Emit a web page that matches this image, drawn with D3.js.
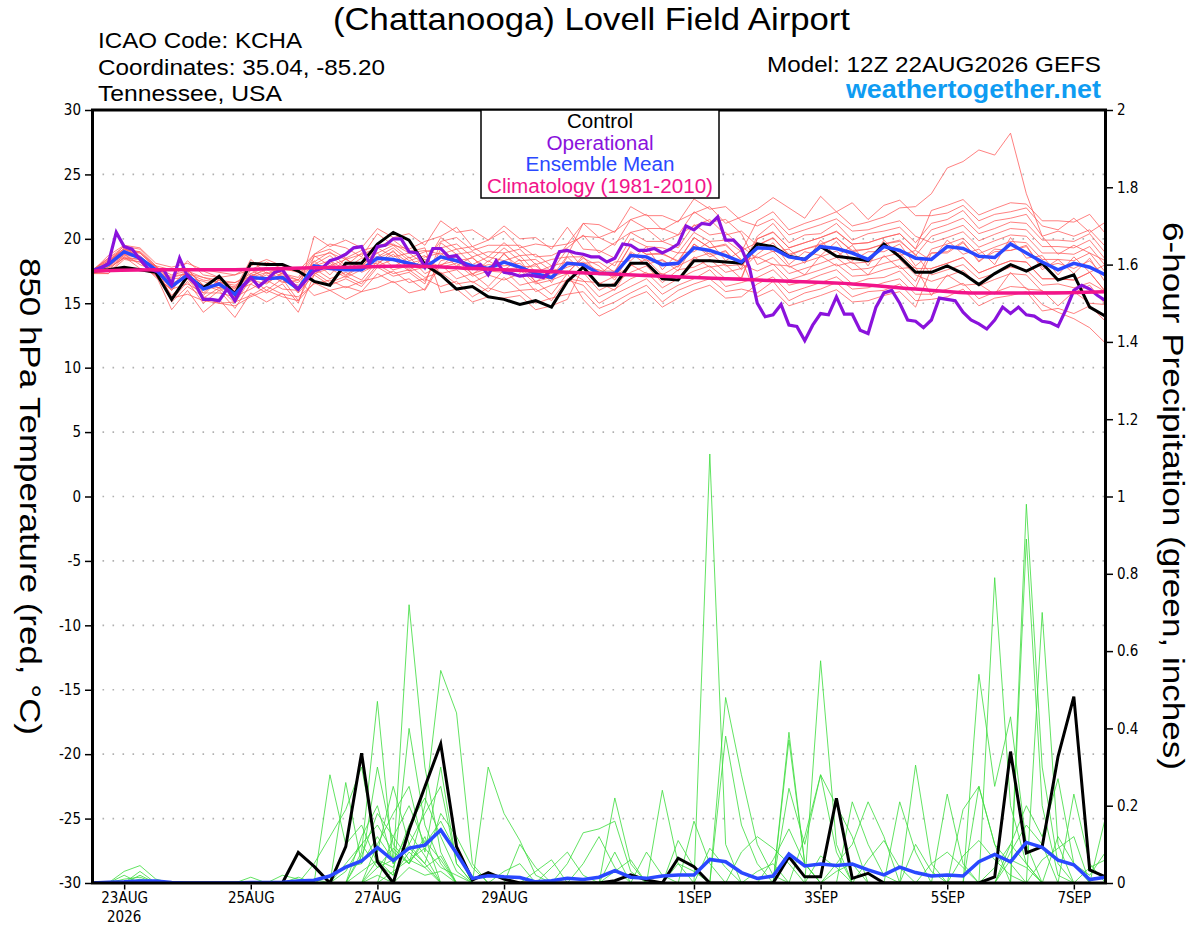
<!DOCTYPE html>
<html>
<head>
<meta charset="utf-8">
<script src="https://cdn.jsdelivr.net/npm/d3@7/dist/d3.min.js"></script>
<style>
  body { margin: 0; background: #fff; }
  svg text { font-family: "Liberation Sans", Arial, Helvetica, sans-serif; }
  .narrow text, text.narrow { font-family: "Liberation Sans Narrow", "DejaVu Sans Condensed", "Liberation Sans", sans-serif; }
</style>
</head>
<body>
<svg id="chart" width="1200" height="927"></svg>
<script>
// Run start (12Z 22AUG2026), members every 6 h, operational every 3 h
const runStartUTC = Date.UTC(2026, 7, 22, 12);

const dateTicks = [Date.UTC(2026,7,23), Date.UTC(2026,7,25), Date.UTC(2026,7,27), Date.UTC(2026,7,29),
                   Date.UTC(2026,8,1), Date.UTC(2026,8,3), Date.UTC(2026,8,5), Date.UTC(2026,8,7)];
const dateTickLabels = ['23AUG', '25AUG', '27AUG', '29AUG', '1SEP', '3SEP', '5SEP', '7SEP'];
const tempTicks = [-30, -25, -20, -15, -10, -5, 0, 5, 10, 15, 20, 25, 30];
const precipTicks = [0, 0.2, 0.4, 0.6, 0.8, 1, 1.2, 1.4, 1.6, 1.8, 2];

// 850 hPa temperature (C), 6-hourly
const controlTemp = [17.5,17.6,17.8,17.6,17.4,15.3,17.1,16.2,17.1,15.7,18.1,18.0,18.0,17.5,16.7,16.4,18.1,18.1,19.6,20.5,19.9,18.0,
  17.2,16.1,16.3,15.5,15.3,14.9,15.2,14.7,16.7,17.8,16.4,16.4,18.1,18.1,16.9,16.8,18.3,18.3,18.2,18.1,
  19.6,19.4,18.65,18.4,19.4,18.65,18.5,18.3,19.6,18.6,17.4,17.4,17.9,17.3,16.45,17.3,18.0,17.5,18.1,16.8,17.2,14.7,14.0];
const meanTemp = [17.5,18.0,19.0,18.5,17.6,16.3,17.2,16.1,16.5,15.7,17.0,16.9,17.0,16.1,17.9,17.7,17.6,17.6,18.5,18.4,18.1,17.8,
  18.6,18.3,17.9,17.7,18.2,17.8,17.3,17.0,18.1,18.0,17.3,17.3,18.7,18.6,18.0,18.1,19.3,19.1,18.7,18.2,
  19.3,19.25,18.6,18.4,19.4,19.25,18.9,18.4,19.4,19.1,18.5,18.4,19.4,19.25,18.65,18.55,19.6,18.9,18.2,17.6,18.1,17.8,17.2];
// operational GFS, 3-hourly
const operTemp = [17.5,17.7,18.1,20.5,19.4,19.2,18.4,17.7,17.5,17.6,16.5,18.5,17.1,16.5,15.3,15.3,15.2,16.1,15.2,16.3,17.0,
  16.3,16.8,17.4,17.6,16.7,16.1,16.8,17.5,17.7,18.3,18.5,18.8,19.3,19.4,18.1,19.4,19.5,20.0,20.0,19.0,18.9,17.8,
  19.25,19.25,18.6,18.7,18.0,17.7,18.0,17.2,18.3,17.4,17.3,17.1,17.2,17.1,17.0,17.6,19.0,19.1,18.9,18.8,18.6,18.6,
  18.2,18.5,19.6,19.5,19.1,19.1,19.25,18.9,19.2,19.6,21.0,20.7,21.2,21.1,21.7,19.9,19.9,19.25,17.8,15.0,
  13.95,14.1,14.9,13.3,13.2,12.1,13.3,14.2,14.1,15.5,14.15,14.15,12.9,12.65,14.7,15.8,16.0,15.0,13.7,13.6,13.1,13.7,
  15.4,15.3,15.2,14.3,13.7,13.4,13.0,13.7,14.7,14.2,14.7,14.1,14.0,13.6,13.5,13.2,14.5,16.0,16.4,16.1,15.6,15.2];
// climatology, daily at 12Z
const climTemp = [17.5,17.6,17.6,17.7,17.8,17.9,17.7,17.5,17.3,17.1,16.9,16.7,16.5,16.1,15.8,15.8,15.9];

const memberTemp = [
  [17.6,18.3,19.2,18.9,17.8, 16.8,18.3,17.2,17.0,16.1,18.4,17.3,17.6,17.5, 18.8,19.6,19.3,18.6,20.4,19.5,19.2,19.8,
   20.2,20.9,19.4,19.9,20.6,19.3,19.6,19.4,19.6, 21.2,20.1,20.6,21.5,21.9,20.7,21.4,22.0,22.5,21.2,21.7,
   22.3,23.2,22.4,21.6,23.3,22.1,22.8,21.5,22.6,23.0,21.8, 21.8,22.0,22.6,21.4,21.9,22.1,22.4,21.0,20.7,21.6,20.5,21.3],
  [17.3,17.5,18.8,18.0,17.5, 15.1,16.3,15.5,15.0,15.1,15.6,16.3,15.7,15.5, 16.5,16.8,16.2,16.7,17.0,17.5,16.6,16.9,
   16.3,16.7,15.5,16.2,15.8,16.0,15.0,15.4,15.7, 15.9,14.6,15.1,15.8,16.4,15.1,16.0,16.5,16.9,15.9,16.1,
   15.8,16.7,15.2,15.8,16.1,16.6,15.5,15.9,16.0,16.5,15.2, 15.3,15.5,16.1,14.8,15.4,15.6,15.9,14.4,14.6,14.2,14.8,13.6],
  [17.5,18.5,19.4,19.2,17.9, 16.9,17.0,16.7,16.2,16.3,17.0,17.4,16.9,16.6, 18.2,19.0,17.9,18.9,18.9,19.5,18.5,19.0,
   19.3,19.6,18.6,19.0,18.9,19.2,18.0,18.4,18.6, 17.4,16.0,16.6,17.4,17.9,16.6,17.6,17.8,18.4,17.4,17.7,
   20.2,21.2,19.7,20.3,20.4,21.2,19.9,20.4,20.6,20.9,19.7, 21.2,21.5,22.2,20.8,21.4,21.6,21.9,20.2,20.6,20.2,20.7,19.4],
  [17.4,17.3,18.4,18.2,17.0, 16.1,16.5,15.8,15.8,15.5,16.1,16.8,16.1,16.0, 17.5,18.1,17.2,18.0,18.1,18.8,17.7,18.2,
   19.8,20.1,19.1,19.5,19.5,19.5,18.6,18.7,19.3, 20.3,18.9,19.7,20.5,20.8,19.8,20.3,21.0,21.5,20.3,20.6,
   19.5,20.1,18.7,19.2,19.5,20.1,19.0,19.2,19.6,19.8,18.8, 17.2,17.6,18.0,16.9,17.3,17.8,17.6,16.4,16.5,16.2,16.6,15.9],
  [17.5,18.1,19.3,18.4,17.9, 17.6,17.7,17.5,17.0,17.2,17.6,18.2,17.7,17.4, 18.0,18.7,17.7,18.5,18.6,19.3,18.3,18.7,
   17.3,17.6,16.6,17.2,16.8,17.3,15.9,16.4,16.8, 16.4,15.0,15.7,16.3,16.9,15.7,16.4,16.9,17.6,16.3,16.6,
   17.0,17.6,16.4,16.7,17.2,17.6,16.5,16.9,17.0,17.5,16.2, 18.9,18.9,19.7,18.3,19.0,19.1,19.4,17.8,18.1,17.7,18.3,17.0],
  [17.4,18.0,18.8,18.6,17.5, 15.6,16.9,15.4,16.2,15.0,16.9,16.0,16.9,15.2, 16.6,16.0,16.3,15.9,17.3,16.6,16.9,16.0,
   18.0,16.9,17.3,16.3,17.6,16.4,16.7,15.7,17.3, 18.7,18.6,17.9,20.0,19.4,19.3,18.9,20.5,19.8,19.9,19.0,
   21.4,22.1,20.7,21.2,21.6,22.1,21.0,21.3,21.7,22.4,22.5, 23.5,25.5,26.0,26.9,26.5,28.2,23.5,20.2,18.8,19.5,18.9,18.3],
  [17.5,17.9,18.6,18.4,17.3, 17.1,17.3,17.0,16.6,16.6,17.1,17.7,17.3,16.8, 18.6,18.9,18.4,18.8,19.3,19.6,18.9,19.1,
   18.8,19.2,18.0,18.6,18.3,18.7,17.4,17.9,18.2, 18.1,18.2,17.4,19.5,18.8,18.9,18.2,20.1,19.3,19.6,18.3,
   18.6,18.0,17.9,17.2,18.7,17.9,18.2,17.2,18.7,17.7,17.8, 15.6,17.2,16.4,16.5,15.7,17.4,16.1,16.0,14.8,15.9,15.0,14.9],
  [17.6,18.5,19.2,19.0,17.9, 15.4,15.7,15.2,15.0,14.8,15.5,16.0,15.5,15.2, 17.7,16.9,17.4,16.8,18.3,17.6,17.9,17.0,
   17.4,16.5,16.7,15.9,17.0,16.0,16.1,15.2,16.9, 16.7,16.6,16.0,18.0,17.3,17.3,16.8,18.6,17.8,18.0,16.9,
   20.0,20.5,19.3,19.7,20.1,20.6,19.6,19.7,20.1,20.4,19.2, 20.7,21.1,21.6,20.4,20.8,21.3,21.2,19.9,19.9,19.8,20.4,18.9],
  [17.4,17.7,18.5,18.2,17.1, 16.0,17.5,15.8,16.8,15.4,17.3,16.6,17.3,15.8, 20.2,19.4,19.9,19.3,20.8,20.1,20.4,19.5,
   21.4,20.5,20.7,19.9,21.0,20.0,20.1,19.2,20.9, 19.2,19.1,18.5,20.5,19.8,19.8,19.3,21.1,20.3,20.5,19.4,
   18.5,19.05,17.8,18.2,18.6,19.05,18.1,18.2,18.6,18.9,17.7, 17.7,18.1,18.55,17.35,17.85,18.3,18.2,16.9,16.9,16.8,17.4,15.9],
  [17.4,18.2,19.0,18.7,17.6, 16.3,17.7,16.2,17.1,15.7,17.6,16.9,17.6,16.1, 17.4,16.6,17.1,16.5,18.0,17.3,17.6,16.7,
   19.2,18.3,18.5,17.7,18.8,17.8,17.9,17.0,18.7, 21.2,21.1,20.5,22.5,21.8,21.8,21.3,23.1,22.3,22.5,21.4,
   21.0,21.55,20.3,20.7,21.1,21.55,20.6,20.7,21.1,21.4,20.2, 19.7,20.1,20.55,19.35,19.85,20.3,20.2,18.9,18.9,18.8,19.4,17.9],
  [17.5,18.7,19.5,19.3,18.1, 17.8,18.1,17.6,17.4,17.2,17.9,18.4,17.9,17.6, 17.9,18.3,17.6,18.2,18.5,19.0,18.1,18.4,
   17.8,18.1,17.1,17.5,17.4,17.6,16.5,16.8,17.3, 15.3,14.0,14.6,15.4,15.9,14.7,15.4,16.0,16.4,15.4,15.5,
   16.5,17.05,15.8,16.2,16.6,17.05,16.1,16.2,16.6,16.9,15.7, 15.7,16.1,16.55,15.35,15.85,16.3,16.2,14.9,14.3,13.8,13.1,11.9],
  [17.3,17.3,18.6,17.7,17.2, 14.5,16.0,14.3,15.3,13.9,15.8,15.1,15.8,14.3, 17.2,16.4,16.9,16.3,17.8,17.1,17.4,16.5,
   19.7,18.8,19.0,18.2,19.3,18.3,18.4,17.5,19.2, 17.7,17.6,17.0,19.0,18.3,18.3,17.8,19.6,18.8,19.0,17.9,
   19.5,20.05,18.8,19.2,19.6,20.05,19.1,19.2,19.6,19.9,18.7, 20.2,20.6,21.05,19.85,20.35,20.8,20.7,19.4,19.4,19.3,19.9,18.4],
  [17.6,18.4,19.1,19.0,17.8, 17.2,17.5,17.0,16.8,16.6,17.3,17.8,17.3,17.0, 18.8,19.2,18.5,19.1,19.4,19.9,19.0,19.3,
   15.8,16.1,15.1,15.5,15.4,15.6,14.5,14.8,15.3, 17.8,16.5,17.1,17.9,18.4,17.2,17.9,18.5,18.9,17.9,18.0,
   17.5,18.05,16.8,17.2,17.6,18.05,17.1,17.2,17.6,17.9,16.7, 19.2,19.6,20.05,18.85,19.35,19.8,19.7,18.4,18.4,18.3,18.9,17.4],
  [17.4,18.0,18.7,18.6,17.4, 15.2,16.7,15.0,16.0,14.6,16.5,15.8,16.5,15.0, 18.7,17.9,18.4,17.8,19.3,18.6,18.9,18.0,
   20.1,19.2,19.4,18.6,19.7,18.7,18.8,17.9,19.6, 20.2,20.1,19.5,21.5,20.8,20.8,20.3,22.1,21.3,21.5,20.4,
   18.0,18.55,17.3,17.7,18.1,18.55,17.6,17.7,18.1,18.4,17.2, 16.7,17.1,17.55,16.35,16.85,17.3,17.2,15.9,15.9,15.8,16.4,14.9],
  [17.5,18.3,19.0,18.9,17.7, 16.6,16.9,16.4,16.2,16.0,16.7,17.2,16.7,16.4, 17.3,17.7,17.0,17.6,17.9,18.4,17.5,17.8,
   18.0,18.3,17.3,17.7,17.6,17.8,16.7,17.0,17.5, 16.8,15.5,16.1,16.9,17.4,16.2,16.9,17.5,17.9,16.9,17.0,
   20.0,20.55,19.3,19.7,20.1,20.55,19.6,19.7,20.1,20.4,19.2, 22.2,22.6,23.05,21.85,22.35,22.8,22.7,21.4,21.4,21.3,21.9,20.4],
  [17.3,17.8,18.5,18.4,17.2, 17.0,17.3,16.8,16.6,16.4,17.1,17.6,17.1,16.8, 15.6,16.0,15.3,15.9,16.2,16.7,15.8,16.1,
   18.3,18.6,17.6,18.0,17.9,18.1,17.0,17.3,17.8, 18.2,17.5,17.5,19.5,18.8,18.8,18.3,20.1,19.3,19.5,18.4,
   15.5,16.05,14.8,15.2,15.6,16.05,15.1,15.2,15.6,15.9,14.7, 17.7,18.1,18.55,17.35,17.85,18.3,18.2,16.9,16.9,16.8,17.4,15.9],
  [17.4,18.1,19.5,18.3,17.9, 16.4,17.0,15.6,16.9,15.9,16.5,17.4,16.6,16.8, 18.3,17.2,18.5,17.4,18.0,19.1,17.5,18.6,
   18.9,17.9,18.6,17.2,18.9,17.4,18.1,16.6,18.6, 18.6,17.2,18.2,18.3,19.4,17.6,18.9,19.0,19.8,18.3,19.1,
   19.7,19.0,19.2,18.1,19.9,18.6,19.5,17.9,19.9,18.7,19.1, 18.3,19.9,18.8,19.2,18.0,20.1,18.5,18.7,17.2,18.6,17.4,18.0],
  [17.5,17.8,18.9,18.6,17.6, 16.0,17.6,16.4,16.0,16.2,16.8,16.5,17.4,15.8, 17.2,18.3,17.1,17.9,18.9,17.8,18.6,17.3,
   17.9,18.8,17.2,18.3,17.6,18.4,16.6,17.7,17.4, 18.5,17.9,16.8,18.9,18.0,18.4,17.5,19.6,18.6,19.1,17.6,
   18.8,19.7,18.0,19.0,18.7,19.8,18.3,19.0,19.0,19.6,17.9, 18.9,19.0,19.8,18.2,19.2,19.1,19.5,17.6,18.4,17.3,18.5,16.6]
];

// 6-hour precipitation (inches)
const controlPrecip = [0,0,0,0,0,0,0,0,0,0,0,0,0,.079,.043,0,.094,.336,.055,0,.137,.249,.360,.094,.008,.027,.010,
  0,0,0,0,0,0,.006,.021,.008,0,.064,.042,0,0,0,0,0,.068,.016,.016,.219,.012,.025,0,0,0,0,0,0,0,
  .016,.340,.078,.094,.327,.482,.034,.016];
const meanPrecip = [0,.002,.003,.005,.005,.001,0,0,0,0,.001,.001,.002,.005,.007,.018,.041,.057,.092,.058,.09,.098,.137,.077,
  .012,.019,.016,.014,.003,.006,.012,.009,.015,.032,.015,.012,.018,.021,.021,.061,.055,.027,.012,.018,.075,.044,.049,.045,
  .049,.034,.021,.041,.027,.018,.021,.018,.055,.074,.055,.105,.092,.059,.047,.009,.015];
// members: [step, inches] for the wet steps, dry elsewhere
const memberPrecipWet = [
  [[2,.03],[3,.045],[4,.01],[17,.08],[18,.47],[19,.05],[20,.72],[21,.30],[22,.08],[33,.22],[34,.05],[59,.98],[60,.30],[61,.05]],
  [[3,.03],[15,.28],[16,.10],[17,.15],[18,.05],[19,.02],[20,.40],[21,.15],[22,.05],[39,1.11],[40,.10],[57,.79],[58,.20],[59,.05]],
  [[16,.26],[17,.05],[18,.30],[19,.10],[20,.05],[21,.20],[22,.55],[23,.44],[24,.05],[36,.24],[37,.05],[46,.575],[47,.10],[60,.70],[61,.10]],
  [[14,.05],[15,.12],[16,.19],[17,.30],[18,.08],[19,.25],[20,.10],[21,.05],[25,.30],[26,.18],[27,.11],[28,.02],[40,.48],[41,.28],[42,.10],[43,.02],[56,.54],[57,.25],[58,.43],[59,.10]],
  [[17,.12],[18,.20],[19,.05],[20,.10],[21,.18],[22,.25],[23,.05],[30,.05],[31,.13],[32,.14],[33,.16],[34,.03],[44,.39],[45,.05],[59,.89],[60,.20],[61,.02]],
  [[18,.10],[19,.18],[20,.25],[21,.08],[22,.30],[23,.05],[38,.16],[39,.05],[44,.37],[45,.05],[51,.21],[52,.08],[62,.23],[63,.05]],
  [[2,.02],[16,.05],[17,.10],[18,.15],[19,.08],[20,.05],[21,.12],[26,.03],[27,.05],[40,.38],[41,.15],[42,.05],[48,.21],[49,.10],[50,.02],[55,.19],[56,.25],[57,.10]],
  [[19,.12],[20,.20],[21,.10],[22,.16],[23,.08],[35,.08],[36,.02],[44,.245],[45,.10],[46,.28],[47,.08],[54,.23],[55,.05],[64,.17]],
  [[3,.02],[12,.02],[13,.01],[18,.06],[19,.04],[20,.15],[21,.22],[22,.12],[23,.03],[29,.04],[30,.08],[31,.02],[47,.05],[48,.10],[49,.21],[50,.12],[58,.10],[59,.20],[60,.12],[61,.27],[62,.05]],
  [[10,.015],[17,.07],[18,.18],[19,.12],[20,.06],[21,.04],[37,.11],[38,.04],[41,.08],[42,.12],[43,.09],[44,.05],[52,.305],[53,.05],[56,.25],[57,.10],[58,.05]],
  [[15,.02],[16,.04],[17,.05],[18,.12],[19,.06],[20,.09],[21,.05],[22,.18],[23,.12],[24,.04],[33,.08],[45,.12],[46,.28],[47,.20],[48,.12],[58,.08],[59,.15],[60,.10]],
  [[14,.01],[16,.03],[17,.10],[18,.04],[19,.06],[20,.13],[21,.07],[27,.10],[28,.04],[39,.09],[40,.04],[49,.06],[50,.11],[51,.04],[61,.12],[62,.05],[63,.02],[64,.08]],
  [[13,.015],[18,.04],[19,.09],[20,.05],[21,.11],[22,.06],[31,.05],[32,.12],[33,.04],[43,.06],[44,.14],[45,.05],[55,.07],[56,.11],[57,.06],[58,.02]],
  [[2,.01],[3,.015],[17,.03],[18,.06],[19,.02],[20,.08],[21,.04],[22,.07],[28,.03],[29,.06],[46,.07],[47,.04],[53,.05],[54,.08],[55,.04],[60,.06],[61,.09],[62,.12]],
  [[18,.02],[20,.04],[21,.02],[22,.03],[37,.05],[38,.03],[42,.03],[43,.05],[52,.10],[53,.03],[58,.06],[59,.04]],
  [[3,.01],[19,.03],[20,.06],[21,.09],[22,.04],[23,.02],[33,.03],[34,.06],[47,.03],[48,.05],[57,.04],[58,.10],[59,.05],[63,.04],[64,.06]]
];

const colors = {
  member: '#ff5a5a', precip: '#3ddc3d', control: '#000000',
  oper: '#8a12dc', mean: '#2a48ff', clim: '#f2148a', grid: '#b0b0b0', site: '#0f9cf2'
};

const nSteps = controlTemp.length;
const stepTime = (i, hours) => new Date(runStartUTC + i * hours * 3600e3);

const plot = { left: 92.5, right: 1105.5, top: 110, bottom: 883 };

const svg = d3.select('#chart');

const x = d3.scaleUtc()
  .domain([stepTime(0, 6), stepTime(nSteps - 1, 6)])
  .range([plot.left, plot.right]);
const yTemp = d3.scaleLinear().domain([-30, 30]).range([plot.bottom, plot.top]);
const yPrecip = d3.scaleLinear().domain([0, 2]).range([plot.bottom, plot.top]);

svg.append('defs').append('clipPath').attr('id', 'plot-clip')
  .append('rect')
  .attr('x', plot.left).attr('y', plot.top)
  .attr('width', plot.right - plot.left).attr('height', plot.bottom - plot.top);

// Dotted grid at each temperature tick (not on the frame)
svg.append('g').attr('class', 'grid')
  .selectAll('line')
  .data(tempTicks.filter(d => d > -30 && d < 30))
  .join('line')
  .attr('x1', plot.left).attr('x2', plot.right)
  .attr('y1', d => yTemp(d)).attr('y2', d => yTemp(d))
  .style('stroke', colors.grid)
  .style('stroke-width', 1.6)
  .style('stroke-dasharray', '1.6,8.4');

const lineT6 = d3.line().x((d, i) => x(stepTime(i, 6))).y(d => yTemp(d));
const lineT3 = d3.line().x((d, i) => x(stepTime(i, 3))).y(d => yTemp(d));
const lineT24 = d3.line().x((d, i) => x(stepTime(i, 24))).y(d => yTemp(d)).curve(d3.curveMonotoneX);
const lineP6 = d3.line().x((d, i) => x(stepTime(i, 6))).y(d => yPrecip(d));

const lines = svg.append('g').attr('clip-path', 'url(#plot-clip)');

// Ensemble members
lines.append('g').selectAll('path')
  .data(memberTemp)
  .join('path')
  .attr('d', lineT6)
  .style('fill', 'none')
  .style('stroke', colors.member)
  .style('stroke-width', 0.9)
  .style('opacity', 0.85);

const memberPrecip = memberPrecipWet.map(wet => {
  const series = new Array(nSteps).fill(0);
  wet.forEach(([step, val]) => { series[step] = val; });
  return series;
});

lines.append('g').selectAll('path')
  .data(memberPrecip)
  .join('path')
  .attr('d', lineP6)
  .style('fill', 'none')
  .style('stroke', colors.precip)
  .style('stroke-width', 0.9)
  .style('opacity', 0.9);

// Control
lines.append('path').datum(controlPrecip).attr('d', lineP6)
  .style('fill', 'none').style('stroke', colors.control).style('stroke-width', 3);
lines.append('path').datum(controlTemp).attr('d', lineT6)
  .style('fill', 'none').style('stroke', colors.control).style('stroke-width', 3);

// Ensemble mean
lines.append('path').datum(meanPrecip).attr('d', lineP6)
  .style('fill', 'none').style('stroke', colors.mean).style('stroke-width', 3.5);
lines.append('path').datum(meanTemp).attr('d', lineT6)
  .style('fill', 'none').style('stroke', colors.mean).style('stroke-width', 3.5);

// Operational
lines.append('path').datum(operTemp).attr('d', lineT3)
  .style('fill', 'none').style('stroke', colors.oper).style('stroke-width', 3.2);

// Climatology
lines.append('path').datum(climTemp).attr('d', lineT24)
  .style('fill', 'none').style('stroke', colors.clim).style('stroke-width', 3.5);

// Frame
svg.append('rect')
  .attr('x', plot.left).attr('y', plot.top)
  .attr('width', plot.right - plot.left).attr('height', plot.bottom - plot.top)
  .style('fill', 'none').style('stroke', '#000').style('stroke-width', 3);

// Axes
const axisLeft = svg.append('g').attr('class', 'narrow')
  .attr('transform', `translate(${plot.left - 1.5},0)`)
  .call(d3.axisLeft(yTemp).tickValues(tempTicks).tickSize(6).tickPadding(4).tickFormat(d => String(d)));

const axisRight = svg.append('g').attr('class', 'narrow')
  .attr('transform', `translate(${plot.right + 1.5},0)`)
  .call(d3.axisRight(yPrecip).tickValues(precipTicks).tickSize(6).tickPadding(4).tickFormat(d => String(d)));

const axisBottom = svg.append('g').attr('class', 'narrow')
  .attr('transform', `translate(0,${plot.bottom + 1.5})`)
  .call(d3.axisBottom(x).tickValues(dateTicks.map(d => new Date(d))).tickSize(5).tickPadding(3)
    .tickFormat((d, i) => dateTickLabels[i]));

[axisLeft, axisRight, axisBottom].forEach(g => {
  g.select('.domain').remove();
  g.selectAll('.tick line').style('stroke', '#000').style('stroke-width', 1.5);
  g.selectAll('.tick text').style('font-size', '15px').style('fill', '#000');
});

axisBottom.append('text')
  .attr('x', x(new Date(dateTicks[0])))
  .attr('y', 37)
  .attr('text-anchor', 'middle')
  .style('font-size', '15px').style('fill', '#000')
  .text('2026');

// Text helper: font size plus the width the reference gives the string
const fitText = (sel, length) => sel.attr('textLength', length).attr('lengthAdjust', 'spacingAndGlyphs');

// Axis titles (both read top to bottom)
svg.append('text')
  .attr('transform', 'translate(20,496.5) rotate(90)')
  .attr('text-anchor', 'middle')
  .style('font-size', '30px')
  .text('850 hPa Temperature (red, °C)')
  .call(fitText, 477);

svg.append('text')
  .attr('transform', 'translate(1163,496) rotate(90)')
  .attr('text-anchor', 'middle')
  .style('font-size', '30px')
  .text('6-hour Precipitation (green, inches)')
  .call(fitText, 548);

// Header
svg.append('text').attr('x', 591.5).attr('y', 30).attr('text-anchor', 'middle')
  .style('font-size', '32px').text('(Chattanooga) Lovell Field Airport')
  .call(fitText, 517);

const infoLines = ['ICAO Code: KCHA', 'Coordinates: 35.04, -85.20', 'Tennessee, USA'];
const infoWidths = [204, 287, 184];
svg.append('g').selectAll('text')
  .data(infoLines)
  .join('text')
  .attr('x', 98).attr('y', (d, i) => 48 + i * 26.5)
  .style('font-size', '22.5px')
  .text(d => d)
  .attr('textLength', (d, i) => infoWidths[i])
  .attr('lengthAdjust', 'spacingAndGlyphs');

svg.append('text').attr('x', 1101).attr('y', 72).attr('text-anchor', 'end')
  .style('font-size', '22.5px').text('Model: 12Z 22AUG2026 GEFS')
  .call(fitText, 334);
svg.append('text').attr('x', 1101).attr('y', 97.5).attr('text-anchor', 'end')
  .style('font-size', '25px').style('font-weight', 'bold').style('fill', colors.site)
  .text('weathertogether.net')
  .call(fitText, 255);

// Legend
const legendItems = [
  { label: 'Control', color: colors.control, width: 66 },
  { label: 'Operational', color: colors.oper, width: 107 },
  { label: 'Ensemble Mean', color: colors.mean, width: 149 },
  { label: 'Climatology (1981-2010)', color: colors.clim, width: 226 }
];
const legend = svg.append('g');
legend.append('rect')
  .attr('x', 481).attr('y', plot.top).attr('width', 238).attr('height', 88)
  .style('fill', '#fff').style('stroke', '#000').style('stroke-width', 1.5);
legend.selectAll('text')
  .data(legendItems)
  .join('text')
  .attr('x', 600).attr('y', (d, i) => 128 + i * 21.5)
  .attr('text-anchor', 'middle')
  .style('font-size', '19.5px')
  .style('fill', d => d.color)
  .text(d => d.label)
  .attr('textLength', d => d.width)
  .attr('lengthAdjust', 'spacingAndGlyphs');
</script>
</body>
</html>
